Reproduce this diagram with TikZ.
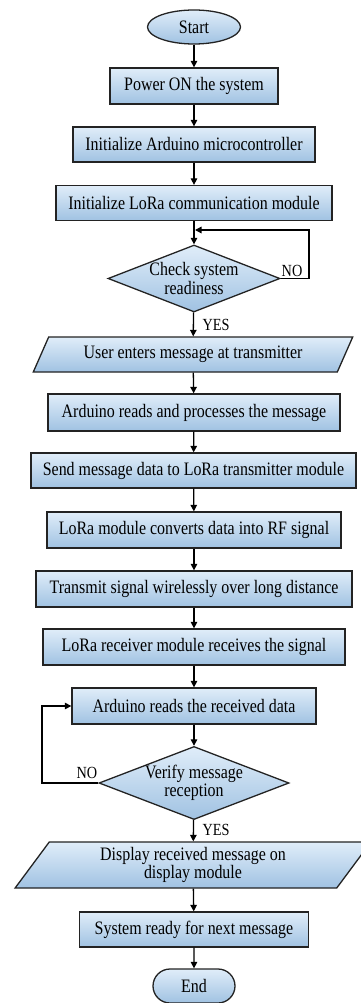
\documentclass[tikz,border=0pt]{standalone}
\usepackage{fontspec}
\setmainfont{Liberation Serif}[FakeStretch=0.84]
\usetikzlibrary{shapes.geometric,shapes.misc,arrows.meta}
\definecolor{boxtop}{RGB}{224,237,249}
\definecolor{boxbot}{RGB}{160,194,226}
\definecolor{edge}{RGB}{35,35,35}
\tikzset{
  base/.style={draw=edge, line width=1.3pt, top color=boxtop, bottom color=boxbot,
    font=\fontsize{19}{18}\selectfont, inner sep=0pt, align=center},
  procbox/.style={base, rectangle, minimum height=36pt},
  termin/.style={base, ellipse},
  endbox/.style={base, rounded rectangle},
  decide/.style={base, diamond},
  iobox/.style={base, trapezium, trapezium stretches=true},
  flow/.style={draw=black, line width=1.3pt, -{Triangle[length=6.5pt,width=6.5pt]}},
  lbl/.style={font=\fontsize{17}{17}\selectfont, inner sep=0pt},
}
\begin{document}
\begin{tikzpicture}[x=1pt,y=-1pt]
\useasboundingbox (0,0) rectangle (360,1003);
\node[termin, minimum width=93pt, minimum height=34pt] (start) at (194,27) {Start};
\node[procbox, minimum width=168pt] (p1) at (194,86) {Power ON the system};
\node[procbox, minimum width=242pt, minimum height=35pt] (p2) at (194,144.5) {Initialize Arduino microcontroller};
\node[procbox, minimum width=276pt, minimum height=35pt] (p3) at (194,203) {Initialize LoRa communication module};
\node[decide, aspect=2.6, minimum width=172pt, minimum height=67pt] (d1) at (194,278.5) {Check system\\readiness};
\node[iobox, trapezium left angle=55, trapezium right angle=125, minimum width=320pt, minimum height=35pt] (io1) at (193,354.5) {User enters message at transmitter};
\node[procbox, minimum width=292pt, minimum height=37pt] (p4) at (194,412.5) {Arduino reads and processes the message};
\node[procbox, minimum width=325pt, minimum height=35pt] (p5) at (193.5,470.5) {Send message data to LoRa transmitter module};
\node[procbox, minimum width=294pt] (p6) at (194,530) {LoRa module converts data into RF signal};
\node[procbox, minimum width=316pt] (p7) at (194,589) {Transmit signal wirelessly over long distance};
\node[procbox, minimum width=302pt] (p8) at (194,647) {LoRa receiver module receives the signal};
\node[procbox, minimum width=244pt] (p9) at (194,706) {Arduino reads the received data};
\node[decide, aspect=2.6, minimum width=182pt, minimum height=70pt] (d2) at (194,783) {Verify message\\reception};
\node[iobox, trapezium left angle=58, trapezium right angle=122, minimum width=356pt, minimum height=46pt] (io2) at (193,865) {Display received message on\\display module};
\node[procbox, minimum width=229pt, minimum height=35pt] (p10) at (194,929.5) {System ready for next message};
\node[endbox, minimum width=82pt, minimum height=34pt] (end) at (194,986) {End};

\draw[flow] (start) -- (p1);
\draw[flow] (p1) -- (p2);
\draw[flow] (p2) -- (p3);
\draw[flow] (p3) -- (d1);
\draw[flow] (d1) -- (io1);
\draw[flow] (io1) -- (p4);
\draw[flow] (p4) -- (p5);
\draw[flow] (p5) -- (p6);
\draw[flow] (p6) -- (p7);
\draw[flow] (p7) -- (p8);
\draw[flow] (p8) -- (p9);
\draw[flow] (p9) -- (d2);
\draw[flow] (d2) -- (io2);
\draw[flow] (io2) -- (p10);
\draw[flow] (p10) -- (end);

\coordinate (j1) at (195,230);
\coordinate (c1) at (309,278.5);
\coordinate (c2) at (309,230);
\draw[flow] (d1.east) -- (c1) -- (c2) -- (j1);
\coordinate (c3) at (42,783);
\coordinate (c4) at (42,706);
\draw[flow] (d2.west) -- (c3) -- (c4) -- (p9.west);

\node[lbl] (no1) at (292,271) {NO};
\node[lbl] (yes1) at (216,325) {YES};
\node[lbl] (no2) at (87,773) {NO};
\node[lbl] (yes2) at (216,830) {YES};
\end{tikzpicture}
\end{document}
